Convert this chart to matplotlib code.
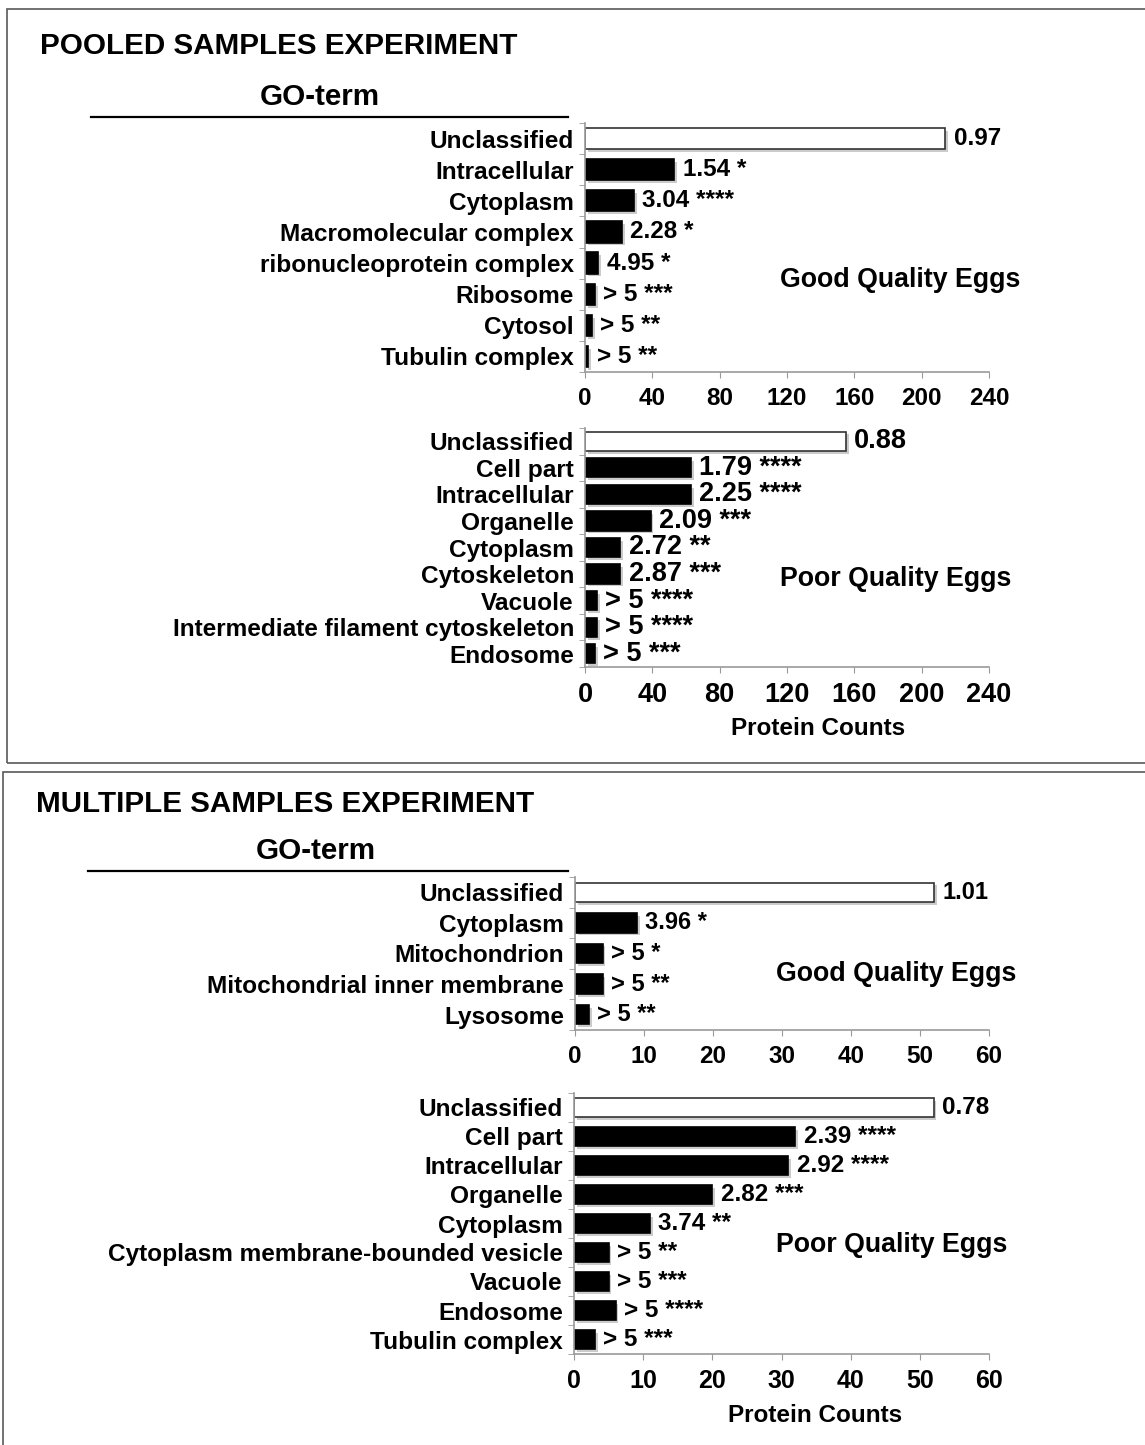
import matplotlib
matplotlib.use("Agg")
import matplotlib.pyplot as plt
import matplotlib.patheffects as pe
from matplotlib.patches import Rectangle
from matplotlib.lines import Line2D
import numpy as np

plt.rcParams['font.family'] = ['Liberation Sans', 'DejaVu Sans']
plt.rcParams['font.weight'] = 'bold'

W, H = 1145, 1445

# pooled samples experiment
pooled_good_terms = ["Unclassified", "Intracellular", "Cytoplasm", "Macromolecular complex",
                     "ribonucleoprotein complex", "Ribosome", "Cytosol", "Tubulin complex"]
pooled_good_counts = [214, 53, 29, 22, 8, 6, 4, 2]
pooled_good_labels = ["0.97", "1.54 *", "3.04 ****", "2.28 *", "4.95 *", "> 5 ***", "> 5 **", "> 5 **"]

pooled_poor_terms = ["Unclassified", "Cell part", "Intracellular", "Organelle", "Cytoplasm",
                     "Cytoskeleton", "Vacuole", "Intermediate filament cytoskeleton", "Endosome"]
pooled_poor_counts = [155, 63, 63, 39, 21, 21, 7, 7, 6]
pooled_poor_labels = ["0.88", "1.79 ****", "2.25 ****", "2.09 ***", "2.72 **", "2.87 ***",
                      "> 5 ****", "> 5 ****", "> 5 ***"]

# multiple samples experiment
multi_good_terms = ["Unclassified", "Cytoplasm", "Mitochondrion", "Mitochondrial inner membrane", "Lysosome"]
multi_good_counts = [52, 9, 4, 4, 2]
multi_good_labels = ["1.01", "3.96 *", "> 5 *", "> 5 **", "> 5 **"]

multi_poor_terms = ["Unclassified", "Cell part", "Intracellular", "Organelle", "Cytoplasm",
                    "Cytoplasm membrane-bounded vesicle", "Vacuole", "Endosome", "Tubulin complex"]
multi_poor_counts = [52, 32, 31, 20, 11, 5, 5, 6, 3]
multi_poor_labels = ["0.78", "2.39 ****", "2.92 ****", "2.82 ***", "3.74 **", "> 5 **",
                     "> 5 ***", "> 5 ****", "> 5 ***"]

pooled_ticks = [0, 40, 80, 120, 160, 200, 240]
multi_ticks = [0, 10, 20, 30, 40, 50, 60]


def px_rect(left, right, top, bottom):
    return [left / W, 1 - bottom / H, (right - left) / W, (bottom - top) / H]


def fx(x):
    return x / W


def fy(y):
    return 1 - y / H


def draw_chart(rect, terms, counts, labels, ticks, quality, qx, qy,
               barh=0.66, tick_fs=17, val_fs=17):
    ax = fig.add_axes(rect)
    n = len(terms)
    y = np.arange(n)
    colors = ['white'] + ['black'] * (n - 1)
    bars = ax.barh(y, counts, height=barh, color=colors, edgecolor='black', linewidth=1.2)
    for b in bars:
        b.set_path_effects([pe.SimplePatchShadow(offset=(2, -2), shadow_rgbFace='0.6', alpha=0.5),
                            pe.Normal()])
    bars[0].set_edgecolor('0.2')
    for i in range(n):
        ax.annotate(labels[i], xy=(counts[i], y[i]), xytext=(6, 0), textcoords='offset points',
                    va='center', ha='left', fontsize=val_fs, fontweight='bold')
    ax.set_ylim(n - 0.5, -0.5)
    ax.set_xlim(ticks[0], ticks[-1])
    ax.set_xticks(ticks)
    ax.set_xticklabels([str(t) for t in ticks], fontsize=tick_fs, fontweight='bold')
    ax.set_yticks(y)
    ax.set_yticklabels(terms, fontsize=17.6, fontweight='bold')
    ax.set_yticks(np.arange(n + 1) - 0.5, minor=True)
    ax.tick_params(axis='y', which='major', length=0, pad=8)
    ax.tick_params(axis='y', which='minor', length=4, color='0.6', direction='out')
    ax.tick_params(axis='x', length=4, color='0.6', direction='out', pad=7)
    for s in ['top', 'right']:
        ax.spines[s].set_visible(False)
    for s in ['left', 'bottom']:
        ax.spines[s].set_color('0.6')
        ax.spines[s].set_linewidth(1.2)
    fig.text(fx(qx), fy(qy), quality, fontsize=19.3, fontweight='bold', ha='left', va='center')
    return ax


fig = plt.figure(figsize=(W / 100, H / 100), dpi=100)

# panel frames
fig.patches.append(Rectangle((fx(7), fy(763)), 1.2, fy(9) - fy(763), transform=fig.transFigure,
                             fill=False, edgecolor='0.35', linewidth=1.2))
fig.patches.append(Rectangle((fx(3), fy(1460)), 1.2, fy(772) - fy(1460), transform=fig.transFigure,
                             fill=False, edgecolor='0.35', linewidth=1.2))

# pooled panel
fig.text(fx(40), fy(46), "POOLED SAMPLES EXPERIMENT", fontsize=21.3, fontweight='bold', va='center')
fig.text(fx(320), fy(97), "GO-term", fontsize=21.3, fontweight='bold', va='center', ha='center')
fig.lines.append(Line2D([fx(91), fx(568)], [fy(117), fy(117)], transform=fig.transFigure,
                        color='black', linewidth=1.6))

draw_chart(px_rect(585, 989, 123, 372), pooled_good_terms, pooled_good_counts, pooled_good_labels,
           pooled_ticks, "Good Quality Eggs", 780, 280, barh=0.68, tick_fs=17.5, val_fs=17.5)
draw_chart(px_rect(585, 989, 428, 667), pooled_poor_terms, pooled_poor_counts, pooled_poor_labels,
           pooled_ticks, "Poor Quality Eggs", 780, 579, barh=0.72, tick_fs=19.5, val_fs=19.5)
fig.text(fx(818), fy(729), "Protein Counts", fontsize=17.5, fontweight='bold', ha='center', va='center')

# multiple panel
fig.text(fx(36), fy(804), "MULTIPLE SAMPLES EXPERIMENT", fontsize=21.3, fontweight='bold', va='center')
fig.text(fx(316), fy(851), "GO-term", fontsize=21.3, fontweight='bold', va='center', ha='center')
fig.lines.append(Line2D([fx(88), fx(568)], [fy(871), fy(871)], transform=fig.transFigure,
                        color='black', linewidth=1.6))

draw_chart(px_rect(575, 989, 877, 1030), multi_good_terms, multi_good_counts, multi_good_labels,
           multi_ticks, "Good Quality Eggs", 776, 974, barh=0.64, tick_fs=17.5, val_fs=17)
draw_chart(px_rect(574, 989, 1093, 1354), multi_poor_terms, multi_poor_counts, multi_poor_labels,
           multi_ticks, "Poor Quality Eggs", 776, 1245, barh=0.66, tick_fs=18, val_fs=17.5)
fig.text(fx(815), fy(1416), "Protein Counts", fontsize=17.5, fontweight='bold', ha='center', va='center')

fig.savefig("out.png", dpi=100)
